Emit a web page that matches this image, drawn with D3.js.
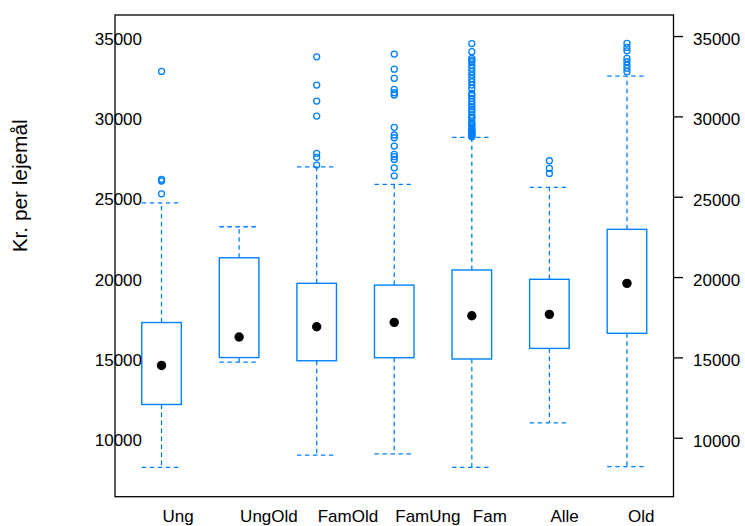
<!DOCTYPE html>
<html>
<head>
<meta charset="utf-8">
<script src="https://cdn.jsdelivr.net/npm/d3@7"></script>
<style>
  html, body { margin: 0; padding: 0; background: #fff; }
  svg text { font-family: "Liberation Sans", Arial, Helvetica, sans-serif; fill: #000; }
</style>
</head>
<body>
<svg id="chart" width="745" height="526"></svg>
<script>
// Rent per lease by household group (box-and-whisker summary)
const categories = ["Ung", "UngOld", "FamOld", "FamUng", "Fam", "Alle", "Old"];
const lowerWhisker = [8160, 14710, 8920, 8990, 8160, 10930, 8200];
const lowerQuartile = [12070, 14990, 14790, 14980, 14900, 15560, 16500];
const medians = [14500, 16270, 16910, 17180, 17590, 17680, 19610];
const upperQuartile = [17170, 21200, 19610, 19500, 20440, 19860, 22970];
const upperWhisker = [24620, 23130, 26860, 25770, 28690, 25580, 32510];

const outliersUng = [25180, 25980, 26080, 32800];
const outliersUngOld = [];
const outliersFamOld = [26970, 27450, 27700, 30020, 30950, 31950, 33710];
const outliersFamUng = [26300, 26800, 27320, 27490, 27640, 28150, 28670, 28840, 29320,
                        31330, 31470, 31680, 32370, 32940, 33880];
const outliersFam = [28730, 28780, 28840, 28880, 28940, 28990, 29040, 29100, 29150, 29250,
                     29350, 29460, 29550, 29660, 29880, 29950, 30080, 30290, 30450, 30600,
                     30750, 30910, 31120, 31300, 31430, 31740, 31950, 32150, 32350, 32570,
                     32780, 32990, 33190, 33400, 33500, 33610, 34030, 34530];
const outliersAlle = [26450, 26760, 27240];
const outliersOld = [32780, 32990, 33190, 33400, 33610, 34080, 34290, 34540];
const outliers = [outliersUng, outliersUngOld, outliersFamOld, outliersFamUng,
                  outliersFam, outliersAlle, outliersOld];

const yTicks = [10000, 15000, 20000, 25000, 30000, 35000];
const yLimits = [6330, 36310];
const yTitle = "Kr. per lejemål";

const svg = d3.select("#chart");
const panel = { left: 115, right: 673.5, top: 15, bottom: 496.7 };
const blue = "#0080ff";

const x = d3.scalePoint()
  .domain(categories)
  .range([panel.left, panel.right])
  .padding(0.6);

const y = d3.scaleLinear()
  .domain(yLimits)
  .range([panel.bottom, panel.top]);

const boxW = x.step() * 0.51;

const groups = categories.map((c, i) => ({
  name: c,
  lo: lowerWhisker[i],
  q1: lowerQuartile[i],
  med: medians[i],
  q3: upperQuartile[i],
  hi: upperWhisker[i],
  out: outliers[i]
}));

const g = svg.append("g");

// whiskers (dashed) and caps
const wh = g.append("g")
  .attr("stroke", blue)
  .attr("stroke-width", 1.3)
  .attr("stroke-dasharray", "4.5,3.5")
  .attr("fill", "none");

groups.forEach(d => {
  const cx = x(d.name);
  wh.append("line").attr("x1", cx).attr("x2", cx).attr("y1", y(d.q3)).attr("y2", y(d.hi));
  wh.append("line").attr("x1", cx).attr("x2", cx).attr("y1", y(d.q1)).attr("y2", y(d.lo));
  wh.append("line").attr("x1", cx - boxW / 2).attr("x2", cx + boxW / 2).attr("y1", y(d.hi)).attr("y2", y(d.hi));
  wh.append("line").attr("x1", cx - boxW / 2).attr("x2", cx + boxW / 2).attr("y1", y(d.lo)).attr("y2", y(d.lo));
});

// boxes
g.append("g").selectAll("rect")
  .data(groups)
  .join("rect")
  .attr("x", d => x(d.name) - boxW / 2)
  .attr("width", boxW)
  .attr("y", d => y(d.q3))
  .attr("height", d => y(d.q1) - y(d.q3))
  .attr("fill", "none")
  .attr("stroke", blue)
  .attr("stroke-width", 1.4);

// outliers
const outPts = groups.flatMap(d => d.out.map(v => ({ name: d.name, v })));
g.append("g").selectAll("circle")
  .data(outPts)
  .join("circle")
  .attr("cx", d => x(d.name))
  .attr("cy", d => y(d.v))
  .attr("r", 3)
  .attr("fill", "none")
  .attr("stroke", blue)
  .attr("stroke-width", 1.3);

// median dots
g.append("g").selectAll("circle")
  .data(groups)
  .join("circle")
  .attr("cx", d => x(d.name))
  .attr("cy", d => y(d.med))
  .attr("r", 4.7)
  .attr("fill", "#000");

// panel frame
svg.append("rect")
  .attr("x", panel.left)
  .attr("y", panel.top)
  .attr("width", panel.right - panel.left)
  .attr("height", panel.bottom - panel.top)
  .attr("fill", "none")
  .attr("stroke", "#000")
  .attr("stroke-width", 1.3);

// right axis with ticks
const rightAxis = d3.axisRight(y)
  .tickValues(yTicks)
  .tickFormat(d3.format("d"))
  .tickSize(9.5)
  .tickPadding(10);
const ra = svg.append("g")
  .attr("transform", `translate(${panel.right},0)`)
  .call(rightAxis);
ra.select(".domain").remove();
ra.selectAll(".tick line").attr("stroke", "#000").attr("stroke-width", 1.3);
ra.selectAll(".tick text")
  .attr("font-size", 17)
  .attr("dy", "0.5em")
  .style("font-family", "Liberation Sans, Arial, sans-serif");

// left labels, overlapping the frame
svg.append("g").selectAll("text")
  .data(yTicks)
  .join("text")
  .attr("x", panel.left + 27)
  .attr("y", d => y(d))
  .attr("dy", "0.5em")
  .attr("text-anchor", "end")
  .attr("font-size", 17)
  .text(d => d3.format("d")(d));

// category labels
svg.append("g").selectAll("text")
  .data(categories)
  .join("text")
  .attr("x", d => x(d) + 1)
  .attr("y", 521.5)
  .attr("text-anchor", "start")
  .attr("font-size", 17)
  .text(d => d);

// y-axis title
svg.append("text")
  .attr("transform", `translate(27,${(panel.top + panel.bottom) / 2 - 70}) rotate(-90)`)
  .attr("text-anchor", "middle")
  .attr("font-size", 20.8)
  .text(yTitle);
</script>
</body>
</html>
